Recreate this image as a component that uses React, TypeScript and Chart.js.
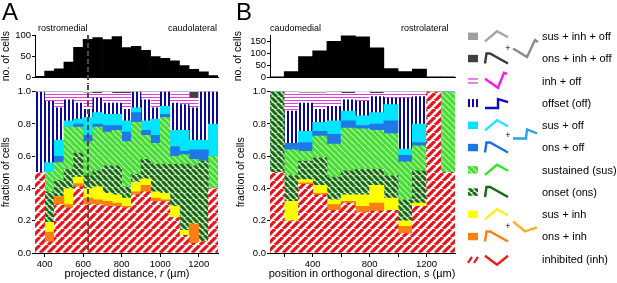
import React, { useEffect, useRef } from 'react';
import { Chart, registerables } from 'chart.js';
Chart.register(...registerables);

const FONT = "'Liberation Sans', Arial, Helvetica, sans-serif";

// ---------- Panel A: projected distance r (µm), 50 µm bins ----------
const rA = [375, 425, 475, 525, 575, 625, 675, 725, 775, 825, 875, 925, 975, 1025, 1075, 1125, 1175, 1225, 1275];
const nA = [2, 15, 20, 36, 71, 90, 94, 89, 96, 70, 73, 64, 49, 45, 39, 28, 19, 13, 4];
const inhA = [0.5, 0.07, 0.3, 0.28, 0.41, 0.3, 0.3, 0.29, 0.29, 0.28, 0.36, 0.38, 0.32, 0.32, 0.22, 0.11, 0.06, 0.07, 0.4];
const onsInhA = [0, 0.06, 0.05, 0.02, 0.02, 0.04, 0.03, 0.03, 0.02, 0.01, 0.02, 0.04, 0.02, 0.01, 0, 0, 0.12, 0, 0];
const susInhA = [0, 0.06, 0, 0.1, 0.04, 0.06, 0.08, 0.05, 0.05, 0.05, 0.06, 0.04, 0.04, 0.04, 0.07, 0.03, 0, 0, 0];
const onsA = [0, 0.19, 0.1, 0.12, 0.15, 0.08, 0.1, 0.17, 0.18, 0.07, 0.05, 0.12, 0.17, 0.18, 0.26, 0.41, 0.36, 0.5, 0];
const susA = [0, 0.12, 0.11, 0.26, 0.16, 0.21, 0.27, 0.21, 0.22, 0.28, 0.32, 0.15, 0.13, 0.29, 0.05, 0.06, 0.04, 0, 0.2];
const onsOffA = [0, 0, 0.04, 0, 0.02, 0.04, 0.02, 0.04, 0.03, 0.06, 0.06, 0.03, 0.05, 0.02, 0.06, 0.02, 0.06, 0.07, 0];
const susOffA = [0, 0.06, 0.1, 0.04, 0.03, 0.11, 0.07, 0.07, 0.07, 0.07, 0.03, 0.06, 0.1, 0.05, 0.1, 0.13, 0.06, 0.06, 0.2];
const offA = [0.5, 0.38, 0.2, 0.13, 0.1, 0.05, 0.09, 0.07, 0.07, 0.07, 0.1, 0.13, 0.07, 0.09, 0.17, 0.16, 0.2, 0.3, 0.2];
const inhOffA = [0, 0.06, 0.1, 0.05, 0.07, 0.1, 0.03, 0.07, 0.06, 0.1, 0, 0.05, 0.1, 0, 0.07, 0.08, 0.06, 0, 0];
const onsInhOffA = [0, 0, 0, 0, 0, 0, 0.01, 0, 0.01, 0.01, 0, 0, 0, 0, 0, 0, 0.04, 0, 0];
const susInhOffA = [0, 0, 0, 0, 0, 0.01, 0, 0, 0, 0, 0, 0, 0, 0, 0, 0, 0, 0, 0];
const markerA = 625;

// ---------- Panel B: orthogonal position s (µm), 100 µm bins ----------
const sB = [150, 250, 350, 450, 550, 650, 750, 850, 950, 1050, 1150, 1250, 1350];
const nB = [2, 24, 86, 110, 150, 173, 168, 123, 36, 24, 34, 1, 2];
const inhB = [0.5, 0.2, 0.425, 0.36, 0.265, 0.31, 0.25, 0.26, 0.265, 0.12, 0.29, 1, 0.5];
const onsInhB = [0, 0, 0.01, 0.01, 0.035, 0.01, 0.04, 0.05, 0, 0.045, 0, 0, 0];
const susInhB = [0, 0.12, 0.02, 0.05, 0.03, 0.04, 0.07, 0.11, 0.075, 0.035, 0.02, 0, 0];
const onsB = [0.5, 0.16, 0.115, 0.17, 0.14, 0.15, 0.16, 0.1, 0.14, 0.13, 0.2, 0, 0];
const susB = [0, 0.16, 0.06, 0.135, 0.205, 0.265, 0.25, 0.24, 0.26, 0.235, 0.155, 0, 0.5];
const onsOffB = [0, 0.04, 0.055, 0.03, 0.06, 0.045, 0.02, 0.04, 0.08, 0.04, 0.02, 0, 0];
const susOffB = [0, 0, 0.07, 0.055, 0.085, 0.06, 0.06, 0.07, 0.1, 0.04, 0.115, 0, 0];
const offB = [0, 0.2, 0.175, 0.08, 0.09, 0.07, 0.09, 0.1, 0.04, 0.315, 0.17, 0, 0];
const inhOffB = [0, 0.12, 0.06, 0.1, 0.09, 0.04, 0.07, 0.02, 0.04, 0.04, 0.03, 0, 0];
const onsInhOffB = [0, 0, 0, 0, 0, 0.01, 0, 0.01, 0, 0, 0, 0, 0];
const susInhOffB = [0, 0, 0.01, 0.01, 0, 0, 0, 0, 0, 0, 0, 0, 0];

// ---------- ticks ----------
const fracTicks = [0, 0.2, 0.4, 0.6, 0.8, 1];
const histTicksA = [0, 50, 100];
const histTicksB = [0, 50, 100, 150];
const xTicksA = [400, 600, 800, 1000, 1200];
const xLabelsA = [400, 600, 800, 1000, 1200];
const xTicksB = [200, 400, 600, 800, 1000, 1200];
const xLabelsB = [400, 800, 1200];

// stacking order, bottom to top
const ORDER = ['inh', 'onsInh', 'susInh', 'ons', 'sus', 'onsOff', 'susOff', 'off', 'inhOff', 'onsInhOff', 'susInhOff'];
const seriesA: Record<string, number[]> = { inh: inhA, onsInh: onsInhA, susInh: susInhA, ons: onsA, sus: susA, onsOff: onsOffA, susOff: susOffA, off: offA, inhOff: inhOffA, onsInhOff: onsInhOffA, susInhOff: susInhOffA };
const seriesB: Record<string, number[]> = { inh: inhB, onsInh: onsInhB, susInh: susInhB, ons: onsB, sus: susB, onsOff: onsOffB, susOff: susOffB, off: offB, inhOff: inhOffB, onsInhOff: onsInhOffB, susInhOff: susInhOffB };

const LEGEND = [
  { key: 'susInhOff', label: 'sus + inh + off', shape: 'sus' },
  { key: 'onsInhOff', label: 'ons + inh + off', shape: 'ons' },
  { key: 'inhOff', label: 'inh + off', shape: 'inhOff' },
  { key: 'off', label: 'offset (off)', shape: 'off' },
  { key: 'susOff', label: 'sus + off', shape: 'sus' },
  { key: 'onsOff', label: 'ons + off', shape: 'ons' },
  { key: 'sus', label: 'sustained (sus)', shape: 'sus' },
  { key: 'ons', label: 'onset (ons)', shape: 'ons' },
  { key: 'susInh', label: 'sus + inh', shape: 'sus' },
  { key: 'onsInh', label: 'ons + inh', shape: 'ons' },
  { key: 'inh', label: 'inhibited (inh)', shape: 'inh' },
];

const ICON_COLOR: Record<string, string> = {
  susInhOff: '#a6a6a6', onsInhOff: '#3a3a3a', inhOff: '#f01ef0', off: '#0a0acc', susOff: '#22e6ff',
  onsOff: '#1a6fe8', sus: '#2ee62e', ons: '#156b15', susInh: '#ffee22', onsInh: '#ff7f15', inh: '#ee1c1c',
};

function tile(w: number, h: number, draw: (g: CanvasRenderingContext2D) => void) {
  const c = document.createElement('canvas');
  c.width = w; c.height = h;
  const g = c.getContext('2d') as CanvasRenderingContext2D;
  draw(g);
  return c;
}
function diag(g: CanvasRenderingContext2D, n: number, up: boolean) {
  g.beginPath();
  for (const x0 of [-n, 0, n]) {
    if (up) { g.moveTo(x0, n); g.lineTo(x0 + n, 0); }
    else { g.moveTo(x0, 0); g.lineTo(x0 + n, n); }
  }
  g.stroke();
}
function makeFills(ctx: CanvasRenderingContext2D): Record<string, any> {
  const inhT = tile(8, 8, (g) => { g.fillStyle = '#fff'; g.fillRect(0, 0, 8, 8); g.strokeStyle = '#e8161c'; g.lineWidth = 3.2; diag(g, 8, true); });
  const onsT = tile(6, 6, (g) => { g.fillStyle = '#d4f3c6'; g.fillRect(0, 0, 6, 6); g.strokeStyle = '#1a671a'; g.lineWidth = 3; diag(g, 6, false); });
  const susT = tile(6, 6, (g) => { g.fillStyle = '#44dd33'; g.fillRect(0, 0, 6, 6); g.strokeStyle = '#b0f2a0'; g.lineWidth = 1.3; diag(g, 6, false); });
  const offT = tile(4, 4, (g) => { g.fillStyle = '#fff'; g.fillRect(0, 0, 4, 4); g.fillStyle = '#0a0a96'; g.fillRect(0, 0, 2, 4); });
  const inhOffT = tile(4, 3, (g) => { g.fillStyle = '#fff'; g.fillRect(0, 0, 4, 3); g.fillStyle = '#e03ce0'; g.fillRect(0, 0, 4, 1); });
  return {
    inh: ctx.createPattern(inhT, 'repeat'),
    onsInh: '#f98012',
    susInh: '#ffff00',
    ons: ctx.createPattern(onsT, 'repeat'),
    sus: ctx.createPattern(susT, 'repeat'),
    onsOff: '#1f78e8',
    susOff: '#00e5ff',
    off: ctx.createPattern(offT, 'repeat'),
    inhOff: ctx.createPattern(inhOffT, 'repeat'),
    onsInhOff: '#404040',
    susInhOff: '#a0a0a0',
  };
}

function dashPlugin(xVal: number, mode: 'hist' | 'frac') {
  return {
    id: 'dashMarker',
    afterDraw(chart: any) {
      const { ctx, chartArea, scales } = chart;
      const x = scales.x.getPixelForValue(xVal);
      ctx.save();
      ctx.strokeStyle = '#4a4a4a';
      ctx.lineWidth = 2;
      ctx.setLineDash([5, 3]);
      ctx.beginPath();
      if (mode === 'hist') { ctx.moveTo(x, chartArea.top); ctx.lineTo(x, chart.height); }
      else { ctx.moveTo(x, 0); ctx.lineTo(x, chartArea.bottom); }
      ctx.stroke();
      ctx.restore();
    },
  };
}

const tickFont = { family: FONT, size: 9.5 };
const titleFont = { family: FONT, size: 10.5 };

function histConfig(xs: number[], counts: number[], xmin: number, xmax: number, ymax: number, yTicks: number[], yWidth: number, padRight: number, marker: number | null): any {
  return {
    type: 'bar',
    data: {
      datasets: [{
        data: xs.map((x, i) => ({ x, y: counts[i] })),
        backgroundColor: '#000', borderWidth: 0, barPercentage: 1, categoryPercentage: 1,
      }],
    },
    options: {
      responsive: false, animation: false, events: [],
      layout: { padding: { top: 15, right: padRight, left: 0, bottom: 0 } },
      plugins: { legend: { display: false }, tooltip: { enabled: false } },
      scales: {
        x: {
          type: 'linear', min: xmin, max: xmax, offset: false,
          grid: { display: false, offset: false }, ticks: { display: false },
          border: { display: true, color: '#000', width: 1 },
          afterFit: (s: any) => { s.height = 5; },
        },
        y: {
          min: 0, max: ymax,
          afterBuildTicks: (s: any) => { s.ticks = yTicks.map((v) => ({ value: v })); },
          grid: { display: true, drawOnChartArea: false, drawTicks: true, tickLength: 3, color: '#000' },
          border: { display: true, color: '#000', width: 1 },
          ticks: { font: tickFont, color: '#000', padding: 1 },
          title: { display: true, text: 'no. of cells', font: titleFont, color: '#000', padding: 0 },
          afterFit: (s: any) => { s.width = yWidth; },
        },
      },
    },
    plugins: marker != null ? [dashPlugin(marker, 'hist')] : [],
  };
}

function fracConfig(xs: number[], series: Record<string, number[]>, fills: Record<string, any>, xmin: number, xmax: number, xTicks: number[], xLabels: number[], padRight: number, marker: number | null): any {
  return {
    type: 'bar',
    data: {
      datasets: ORDER.map((k) => ({
        label: k,
        data: xs.map((x, i) => ({ x, y: series[k][i] })),
        backgroundColor: fills[k], borderWidth: 0, barPercentage: 1, categoryPercentage: 1,
      })),
    },
    options: {
      responsive: false, animation: false, events: [],
      layout: { padding: { top: 5, right: padRight, left: 0, bottom: 0 } },
      plugins: { legend: { display: false }, tooltip: { enabled: false } },
      scales: {
        x: {
          type: 'linear', min: xmin, max: xmax, offset: false, stacked: true,
          afterBuildTicks: (s: any) => { s.ticks = xTicks.map((v) => ({ value: v })); },
          grid: { display: true, drawOnChartArea: false, drawTicks: true, tickLength: 4, color: '#000', offset: false },
          border: { display: true, color: '#000', width: 1 },
          ticks: { font: tickFont, color: '#000', padding: 2, maxRotation: 0, autoSkip: false, callback: (v: any) => (xLabels.includes(Number(v)) ? String(v) : '') },
          afterFit: (s: any) => { s.height = 30; },
        },
        y: {
          min: 0, max: 1, stacked: true,
          afterBuildTicks: (s: any) => { s.ticks = fracTicks.map((v) => ({ value: v })); },
          grid: { display: true, drawOnChartArea: false, drawTicks: true, tickLength: 3, color: '#000' },
          border: { display: true, color: '#000', width: 1 },
          ticks: { font: tickFont, color: '#000', padding: 1, callback: (v: any) => Number(v).toFixed(1) },
          title: { display: true, text: 'fraction of cells', font: titleFont, color: '#000', padding: 0 },
          afterFit: (s: any) => { s.width = 35; },
        },
      },
    },
    plugins: marker != null ? [dashPlugin(marker, 'frac')] : [],
  };
}

const SHAPES: Record<string, number[][]> = {
  sus: [[485, 5], [497, -5], [508, 1]],
  ons: [[485, 5], [486.5, -5], [490, -5], [508, 5]],
  inhOff: [[485, -2], [498, 7], [504, -8], [507, -7]],
  off: [[485, 5], [498, 5], [498, -4], [508, -1]],
  inh: [[485, -3], [497, 6], [508, -3]],
};
const rowY = (i: number) => 36.3 + 22.25 * i;
const LEG_X = 455;

function poly(g: CanvasRenderingContext2D, pts: number[][], cy: number, color: string) {
  g.save();
  g.strokeStyle = color; g.lineWidth = 2.4; g.lineJoin = 'miter'; g.lineCap = 'butt';
  g.beginPath();
  pts.forEach(([x, y], j) => { const px = x - LEG_X, py = cy + y; if (j === 0) g.moveTo(px, py); else g.lineTo(px, py); });
  g.stroke();
  g.restore();
}

function drawLegend(cv: HTMLCanvasElement) {
  const g = cv.getContext('2d') as CanvasRenderingContext2D;
  const fills = makeFills(g);
  g.clearRect(0, 0, cv.width, cv.height);
  LEGEND.forEach((r, i) => {
    const c = rowY(i);
    const sx = 468 - LEG_X;
    if (r.key === 'inhOff') {
      g.fillStyle = '#e03ce0';
      g.fillRect(sx, c - 2.5, 10, 1.3); g.fillRect(sx, c + 1.5, 10, 1.3);
    } else if (r.key === 'off') {
      g.fillStyle = '#0a0a96';
      [0, 4, 8].forEach((d) => g.fillRect(sx + d, c - 4, 2, 8));
    } else if (r.key === 'inh') {
      g.save(); g.strokeStyle = '#e8161c'; g.lineWidth = 2.2;
      g.beginPath(); g.moveTo(sx, c + 4); g.lineTo(sx + 4, c - 2); g.moveTo(sx + 6, c + 4); g.lineTo(sx + 10, c - 2); g.stroke(); g.restore();
    } else {
      g.fillStyle = fills[r.key];
      g.fillRect(sx, c - 3.7, 10, 7.4);
    }
    poly(g, SHAPES[r.shape], c, ICON_COLOR[r.key]);
  });
  const plus = (x: number, y: number) => {
    g.save(); g.fillStyle = '#000'; g.font = `9px ${FONT}`; g.textAlign = 'center'; g.textBaseline = 'middle';
    g.fillText('+', x - LEG_X, y); g.restore();
  };
  const m1 = (rowY(0) + rowY(1)) / 2;
  plus(508, m1 + 1);
  poly(g, [[513, 1], [527, 9.5], [535, -7.5], [538, -5.5]], m1, '#8a8a8a');
  const m2 = (rowY(4) + rowY(5)) / 2;
  plus(508, m2 - 1);
  poly(g, [[513, 2], [526, 2], [527, -7], [537, -3]], m2, '#2aa3ee');
  const m3 = (rowY(8) + rowY(9)) / 2;
  plus(508, m3 + 1.5);
  poly(g, [[513, -4], [525, 6], [537, 2]], m3, '#ffb020');
}

const abs = (s: React.CSSProperties): React.CSSProperties => ({ position: 'absolute', margin: 0, whiteSpace: 'nowrap', ...s });

export default function App() {
  const aHist = useRef<HTMLCanvasElement>(null);
  const aFrac = useRef<HTMLCanvasElement>(null);
  const bHist = useRef<HTMLCanvasElement>(null);
  const bFrac = useRef<HTMLCanvasElement>(null);
  const leg = useRef<HTMLCanvasElement>(null);

  useEffect(() => {
    const charts: Chart[] = [];
    const fa = makeFills(aFrac.current!.getContext('2d') as CanvasRenderingContext2D);
    const fb = makeFills(bFrac.current!.getContext('2d') as CanvasRenderingContext2D);
    charts.push(new Chart(aHist.current!, histConfig(rA, nA, 350, 1300, 100, histTicksA, 35, 7, markerA)));
    charts.push(new Chart(aFrac.current!, fracConfig(rA, seriesA, fa, 350, 1300, xTicksA, xLabelsA, 7, markerA)));
    charts.push(new Chart(bHist.current!, histConfig(sB, nB, 100, 1400, 176, histTicksB, 38, 5, null)));
    charts.push(new Chart(bFrac.current!, fracConfig(sB, seriesB, fb, 100, 1400, xTicksB, xLabelsB, 5, null)));
    drawLegend(leg.current!);
    return () => charts.forEach((c) => c.destroy());
  }, []);

  const small = { fontFamily: FONT, fontSize: 9, lineHeight: '9px', color: '#000' };
  const mid = { fontFamily: FONT, fontSize: 11, lineHeight: '11px', color: '#000' };
  const big = { fontFamily: FONT, fontSize: 24, lineHeight: '24px', color: '#000' };

  return (
    <div style={{ position: 'fixed', left: 0, top: 0, width: 617, height: 283, background: '#fff', overflow: 'hidden' }}>
      <canvas ref={aHist} width={225} height={64} style={abs({ left: 0, top: 20, width: 225, height: 64 })} />
      <canvas ref={aFrac} width={225} height={198} style={abs({ left: 0, top: 85, width: 225, height: 198 })} />
      <canvas ref={bHist} width={228} height={64} style={abs({ left: 232, top: 20, width: 228, height: 64 })} />
      <canvas ref={bFrac} width={225} height={198} style={abs({ left: 235, top: 85, width: 225, height: 198 })} />
      <canvas ref={leg} width={162} height={283} style={abs({ left: LEG_X, top: 0, width: 162, height: 283 })} />

      <div style={abs({ ...big, left: 2, top: 0 })}>A</div>
      <div style={abs({ ...big, left: 236, top: 0 })}>B</div>

      <div style={abs({ ...small, left: 38, top: 24 })}>rostromedial</div>
      <div style={abs({ ...small, left: 168, top: 24 })}>caudolateral</div>
      <div style={abs({ ...small, left: 270, top: 24 })}>caudomedial</div>
      <div style={abs({ ...small, left: 401, top: 24 })}>rostrolateral</div>

      <div style={abs({ ...mid, left: 27, width: 200, top: 268, textAlign: 'center' })}>projected distance, <i>r</i> (µm)</div>
      <div style={abs({ ...mid, left: 212, width: 300, top: 268, textAlign: 'center' })}>position in orthogonal direction, <i>s</i> (µm)</div>

      {LEGEND.map((r, i) => (
        <div key={r.key} style={abs({ ...mid, left: 542, top: rowY(i) - 5.3 })}>{r.label}</div>
      ))}
    </div>
  );
}
